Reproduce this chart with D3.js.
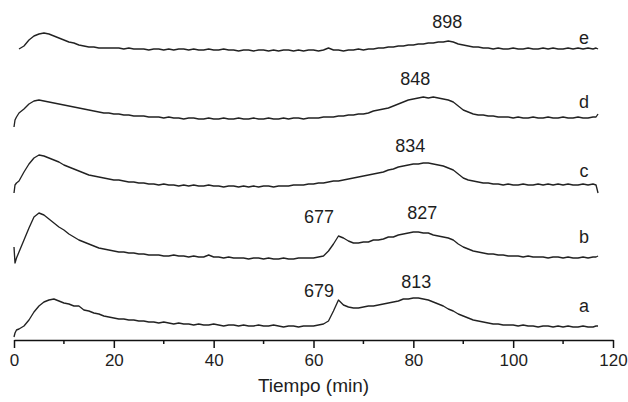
<!DOCTYPE html>
<html>
<head>
<meta charset="utf-8">
<script src="https://cdn.jsdelivr.net/npm/d3@7"></script>
<style>
  html, body { margin: 0; padding: 0; background: #fff; }
  svg { display: block; }
</style>
</head>
<body>
<div id="chart"></div>
<script>
// sampling times (min), shared by every trace
const time = [0, 0.2, 0.5,
  1, 2, 3, 4, 5, 6, 7, 8, 9, 10,
  11, 12, 13, 14, 15, 16, 17, 18, 19, 20,
  21, 22, 23, 24, 25, 26, 27, 28, 29, 30,
  31, 32, 33, 34, 35, 36, 37, 38, 39, 40,
  41, 42, 43, 44, 45, 46, 47, 48, 49, 50,
  51, 52, 53, 54, 55, 56, 57, 58, 59, 60,
  61, 62, 63, 64, 65, 66, 67, 68, 69, 70,
  71, 72, 73, 74, 75, 76, 77, 78, 79, 80,
  81, 82, 83, 84, 85, 86, 87, 88, 89, 90,
  91, 92, 93, 94, 95, 96, 97, 98, 99, 100,
  101, 102, 103, 104, 105, 106, 107, 108, 109, 110,
  111, 112, 113, 114, 115, 116,
  116.6, 117];

// signal (a.u., traces already offset for stacking)
const aValues = [3, 7, 10,
  11, 14, 20, 28, 34, 38, 40, 41, 39, 37,
  36, 34, 34, 30, 29, 27, 26, 24, 23, 22,
  21, 21, 20, 20, 19, 19, 18, 18, 17, 18,
  17, 16, 17, 16, 16, 15, 16, 15, 15, 16,
  15, 14, 15, 15, 14, 15, 14, 14, 15, 14,
  14, 15, 14, 13, 14, 14, 13, 14, 14, 14,
  15, 16, 19, 29, 40, 35, 33, 32, 32, 33,
  34, 34, 35, 36, 37, 38, 39, 41, 41, 42,
  42, 41, 40, 38, 36, 34, 31, 29, 26, 24,
  22, 20, 19, 18, 17, 16, 16, 15, 15, 15,
  14, 15, 14, 14, 13, 14, 14, 13, 14, 13,
  14, 13, 13, 14, 13, 13,
  14, 14];

const bValues = [93, 77, 82,
  88, 100, 112, 123, 127, 125, 121, 117, 113, 110,
  106, 103, 100, 98, 96, 94, 92, 91, 90, 89,
  88, 88, 87, 87, 86, 86, 85, 85, 85, 84,
  84, 85, 84, 84, 83, 84, 83, 83, 85, 83,
  83, 82, 83, 82, 82, 82, 81, 82, 82, 81,
  82, 81, 81, 82, 81, 81, 82, 82, 82, 82,
  83, 84, 89, 96, 104, 102, 99, 97, 97, 98,
  98, 100, 100, 101, 103, 103, 105, 106, 107, 108,
  108, 107, 107, 105, 104, 103, 102, 100, 96, 93,
  91, 89, 88, 87, 86, 86, 85, 85, 84, 84,
  84, 83, 84, 83, 83, 83, 82, 83, 83, 82,
  83, 82, 82, 83, 82, 83,
  83, 84];

const cValues = [147, 155, 157,
  159, 168, 176, 182, 185, 184, 182, 180, 178, 175,
  173, 171, 169, 167, 165, 164, 163, 162, 161, 160,
  160, 159, 158, 158, 157, 157, 156, 156, 155, 156,
  155, 155, 154, 155, 154, 155, 154, 154, 155, 154,
  154, 153, 154, 154, 153, 154, 153, 154, 153, 154,
  154, 153, 154, 154, 154, 155, 155, 155, 156, 156,
  157, 157, 158, 159, 159, 160, 161, 162, 163, 164,
  165, 166, 167, 168, 170, 171, 173, 174, 175, 176,
  176, 177, 177, 176, 175, 174, 172, 170, 166, 162,
  160, 159, 158, 157, 157, 156, 156, 155, 156, 155,
  155, 156, 155, 155, 156, 155, 156, 155, 156, 155,
  156, 155, 155, 156, 155, 156,
  155, 147];

const dValues = [213, 220, 223,
  227, 231, 236, 239, 240, 239, 238, 237, 236, 235,
  234, 233, 232, 231, 230, 229, 228, 227, 227, 226,
  226, 225, 225, 224, 224, 224, 223, 223, 223, 222,
  223, 222, 222, 221, 222, 222, 221, 221, 222, 221,
  221, 222, 221, 221, 222, 221, 221, 222, 221, 221,
  222, 221, 221, 222, 221, 222, 222, 221, 222, 222,
  222, 223, 223, 223, 224, 224, 225, 225, 226, 226,
  227, 229, 230, 231, 232, 234, 236, 238, 240, 241,
  242, 243, 242, 243, 242, 241, 240, 238, 234, 230,
  228, 226, 225, 225, 224, 224, 223, 223, 223, 222,
  223, 222, 222, 223, 222, 222, 223, 222, 222, 223,
  222, 222, 223, 222, 222, 223,
  223, 226];

const eValues = [null, null, null,
  291, 294, 300, 304, 306, 307, 306, 304, 302, 300,
  298, 297, 295, 294, 293, 293, 292, 292, 292, 292,
  292, 291, 292, 291, 291, 291, 290, 291, 291, 290,
  291, 290, 291, 291, 290, 291, 290, 290, 291, 290,
  290, 291, 290, 290, 289, 290, 290, 289, 290, 290,
  289, 290, 289, 290, 290, 289, 290, 289, 290, 290,
  289, 290, 292, 290, 290, 289, 290, 290, 291, 290,
  291, 291, 292, 292, 293, 293, 294, 294, 295, 295,
  296, 296, 297, 297, 298, 298, 299, 298, 296, 295,
  294, 293, 293, 292, 292, 291, 292, 291, 291, 292,
  291, 291, 292, 291, 291, 292, 291, 292, 291, 291,
  292, 291, 292, 291, 292, 291,
  292, 291];

const seriesNames = ['a', 'b', 'c', 'd', 'e'];
const seriesValues = [aValues, bValues, cValues, dValues, eValues];

// trace letters (placed at t, signal)
const letterTimes = [114.2, 114.2, 114.2, 114.2, 114.2];
const letterLevels = [28, 97, 163, 232, 296];

// peak temperature annotations
const peakLabels = ['679', '813', '677', '827', '834', '848', '898'];
const peakTimes = [61.1, 80.6, 61.1, 81.8, 79.4, 80.4, 86.8];
const peakLevels = [43, 52, 117, 121, 188, 255, 312];

const xTicks = [0, 20, 40, 60, 80, 100, 120];
const xMinorTicks = [10, 30, 50, 70, 90, 110];
const xTitle = 'Tiempo (min)';

const width = 628;
const height = 402;
const lineColor = '#222222';
const textColor = '#1e1e1e';
const fontFamily = '"Liberation Sans", Arial, sans-serif';

const xScale = d3.scaleLinear().domain([0, 120]).range([14, 613]);
const yScale = d3.scaleLinear().domain([0, 320]).range([340, 20]);

const svg = d3.select('#chart')
  .append('svg')
  .attr('width', width)
  .attr('height', height);

const line = d3.line()
  .defined(d => d.v !== null)
  .x(d => xScale(d.t))
  .y(d => yScale(d.v));

seriesValues.forEach((values, i) => {
  const points = time.map((t, j) => ({t, v: values[j]}));
  svg.append('path')
    .datum(points)
    .attr('class', `trace trace--${seriesNames[i]}`)
    .attr('fill', 'none')
    .attr('stroke', lineColor)
    .attr('stroke-width', 1.35)
    .attr('stroke-linejoin', 'round')
    .attr('d', line);
});

// x axis
const xAxis = svg.append('g')
  .attr('transform', `translate(0, ${yScale(0)})`)
  .call(d3.axisBottom(xScale).tickValues(xTicks).tickSize(8).tickPadding(6).tickSizeOuter(0));

xAxis.select('.domain').attr('stroke', '#111').attr('stroke-width', 1.6);
xAxis.selectAll('.tick line').attr('stroke', '#111').attr('stroke-width', 1.5);
xAxis.selectAll('text')
  .attr('fill', textColor)
  .attr('font-size', '17px')
  .attr('font-family', fontFamily);

svg.append('g')
  .selectAll('line')
  .data(xMinorTicks)
  .join('line')
  .attr('x1', d => xScale(d))
  .attr('x2', d => xScale(d))
  .attr('y1', yScale(0))
  .attr('y2', yScale(0) + 4)
  .attr('stroke', '#111')
  .attr('stroke-width', 1.5);

svg.append('text')
  .attr('x', (xScale(0) + xScale(120)) / 2)
  .attr('y', 392)
  .attr('text-anchor', 'middle')
  .attr('fill', textColor)
  .attr('font-size', '19px')
  .attr('font-family', fontFamily)
  .text(xTitle);

// labels
svg.append('g')
  .selectAll('text')
  .data(seriesNames)
  .join('text')
  .attr('x', (d, i) => xScale(letterTimes[i]))
  .attr('y', (d, i) => yScale(letterLevels[i]))
  .attr('text-anchor', 'middle')
  .attr('fill', textColor)
  .attr('font-size', '18px')
  .attr('font-family', fontFamily)
  .text(d => d);

svg.append('g')
  .selectAll('text')
  .data(peakLabels)
  .join('text')
  .attr('x', (d, i) => xScale(peakTimes[i]))
  .attr('y', (d, i) => yScale(peakLevels[i]))
  .attr('text-anchor', 'middle')
  .attr('fill', textColor)
  .attr('font-size', '18px')
  .attr('font-family', fontFamily)
  .text(d => d);
</script>
</body>
</html>
